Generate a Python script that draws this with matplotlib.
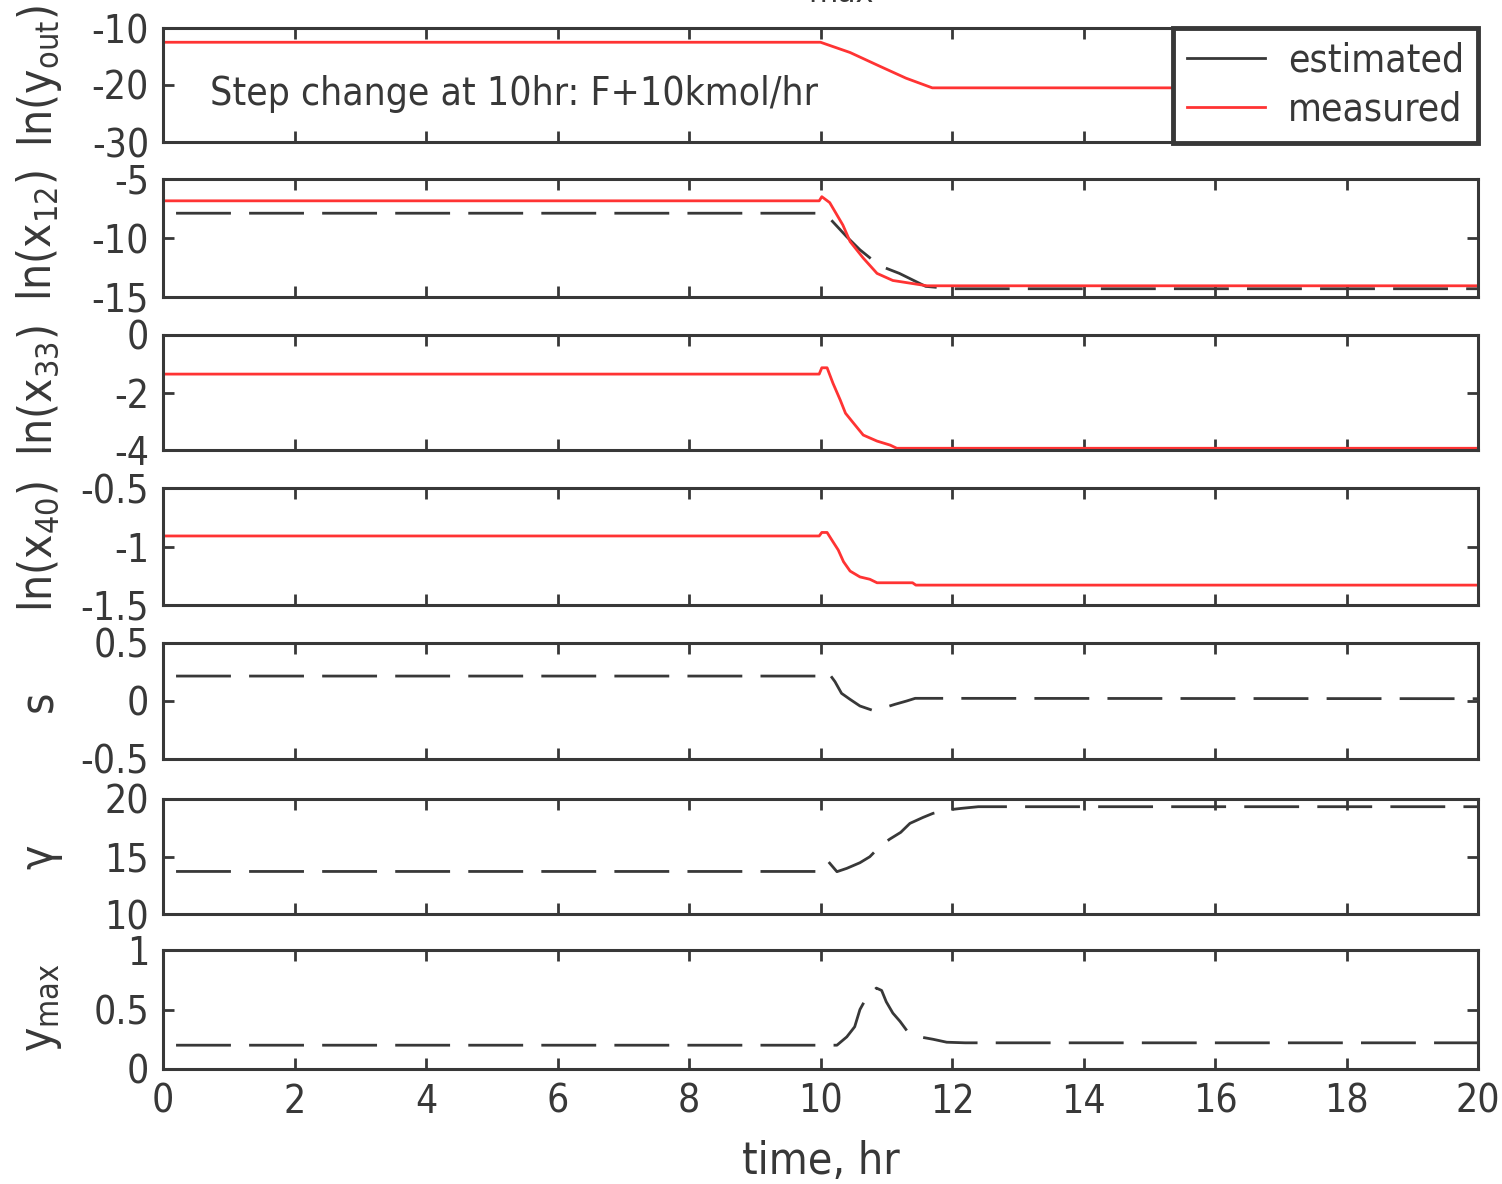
import matplotlib
matplotlib.use("Agg")
import matplotlib.pyplot as plt
from matplotlib.ticker import FormatStrFormatter

plt.rcParams['font.family'] = ['DejaVu Sans']
plt.rcParams['font.stretch'] = 'condensed'
plt.rcParams['mathtext.fontset'] = 'custom'
plt.rcParams['mathtext.rm'] = 'DejaVu Sans:stretch=condensed'
plt.rcParams['mathtext.default'] = 'rm'
plt.rcParams['axes.unicode_minus'] = False
plt.rcParams['lines.scale_dashes'] = False

DARK = '#383838'
RED = '#ff3333'

# ---- data ----
t_yout = [0, 10.0, 10.45, 10.9, 11.3, 11.7, 20]
yout_meas = [-12.5, -12.5, -14.3, -16.7, -18.8, -20.5, -20.5]

t_x12_meas = [0, 9.98, 10.02, 10.14, 10.34, 10.45, 10.65, 10.86, 11.1, 11.62, 20]
x12_meas = [-6.85, -6.85, -6.5, -7.0, -8.9, -10.3, -11.7, -13.0, -13.6, -14.05, -14.05]
t_x12_est = [0, 10.0, 10.15, 10.4, 10.6, 10.9, 11.2, 11.6, 12.0, 20]
x12_est = [-7.9, -7.9, -8.4, -9.9, -11.0, -12.35, -13.0, -14.1, -14.3, -14.3]

t_x33_meas = [0, 9.98, 10.02, 10.1, 10.19, 10.3, 10.38, 10.5, 10.65, 10.86, 11.06, 11.16, 20]
x33_meas = [-1.36, -1.36, -1.14, -1.14, -1.68, -2.26, -2.72, -3.06, -3.48, -3.69, -3.83, -3.94, -3.94]

t_x40_meas = [0, 9.98, 10.02, 10.1, 10.19, 10.27, 10.35, 10.45, 10.6, 10.75, 10.86, 11.4, 11.45, 20]
x40_meas = [-0.91, -0.91, -0.88, -0.88, -0.96, -1.03, -1.13, -1.21, -1.26, -1.28, -1.31, -1.31, -1.33, -1.33]

t_s = [0, 10.0, 10.12, 10.22, 10.32, 10.45, 10.6, 10.78, 10.9, 11.13, 11.31, 11.44, 20]
s_est = [0.215, 0.215, 0.244, 0.167, 0.066, 0.014, -0.043, -0.078, -0.07, -0.029, 0.0, 0.023, 0.02]

t_gam = [0, 10.0, 10.12, 10.25, 10.4, 10.6, 10.75, 10.89, 11.05, 11.22, 11.36, 11.56, 11.71, 11.92, 12.15, 12.4, 20]
gam_est = [13.7, 13.7, 14.55, 13.68, 13.97, 14.46, 14.98, 15.8, 16.5, 17.1, 17.88, 18.4, 18.75, 19.04, 19.19, 19.33, 19.33]

t_ymax = [0, 10.0, 10.25, 10.4, 10.52, 10.6, 10.71, 10.85, 10.93, 11.0, 11.1, 11.21, 11.33, 11.51, 11.71, 11.92, 12.2, 20]
ymax_est = [0.2, 0.2, 0.2, 0.27, 0.355, 0.5, 0.61, 0.68, 0.66, 0.565, 0.47, 0.4, 0.31, 0.27, 0.25, 0.225, 0.22, 0.22]

ylabels = [r'ln(y$_{out}$)', r'ln(x$_{12}$)', r'ln(x$_{33}$)', r'ln(x$_{40}$)', 's', 'γ', r'y$_{max}$']
ylims = [(-30, -10), (-15, -5), (-4, 0), (-1.5, -0.5), (-0.5, 0.5), (10, 20), (0, 1)]
yticks = [[-30, -20, -10], [-15, -10, -5], [-4, -2, 0], [-1.5, -1, -0.5],
          [-0.5, 0, 0.5], [10, 15, 20], [0, 0.5, 1]]
xticks = list(range(0, 21, 2))

# ---- layout (pixel rows of each panel) ----
W, H = 1502, 1184
rows = [(28, 142), (179, 297), (335, 450), (488, 605), (643, 759), (799, 914), (950, 1069)]
left, right = 163, 1478
label_y = [0.58, 0.52, 0.52, 0.5, 0.5, 0.5, 0.52]

fig = plt.figure(figsize=(W / 100, H / 100), dpi=100)
dash_offset = (43.2, (39.5, 13.1))

axes = []
for i, (top, bot) in enumerate(rows):
    ax = fig.add_axes([left / W, 1 - bot / H, (right - left) / W, (bot - top) / H])
    ax.set_xlim(0, 20)
    ax.set_ylim(*ylims[i])
    ax.set_xticks(xticks)
    ax.set_yticks(yticks[i])
    ax.yaxis.set_major_formatter(FormatStrFormatter('%g'))
    ax.tick_params(direction='in', length=8, width=2, top=True, right=True,
                   labelsize=28, colors=DARK, pad=10)
    if i < len(rows) - 1:
        ax.tick_params(labelbottom=False)
    for sp in ax.spines.values():
        sp.set_linewidth(2.2)
        sp.set_color(DARK)
    ax.set_ylabel(ylabels[i], fontsize=33, color=DARK, va='baseline')
    ax.yaxis.set_label_coords((52 - left) / (right - left), label_y[i])
    axes.append(ax)

a1, a2, a3, a4, a5, a6, a7 = axes

a1.plot(t_yout, yout_meas, color=RED, lw=2)
a1.text(0.71, -21.6, 'Step change at 10hr: F+10kmol/hr', fontsize=28, color=DARK, va='center')
h_est, = a1.plot([], [], color=DARK, lw=2, label='estimated')
h_meas, = a1.plot([], [], color=RED, lw=2, label='measured')
leg = a1.legend(handles=[h_est, h_meas], loc='upper right', bbox_to_anchor=(1, 1),
                borderaxespad=0, fancybox=False, fontsize=28, handlelength=2.0,
                handletextpad=0.6, borderpad=0.36, labelspacing=0.27, framealpha=1)
leg.get_frame().set_edgecolor(DARK)
leg.get_frame().set_linewidth(3.5)
for txt in leg.get_texts():
    txt.set_color(DARK)

a2.plot(t_x12_est, x12_est, color=DARK, lw=2, linestyle=dash_offset)
a2.plot(t_x12_meas, x12_meas, color=RED, lw=2)

a3.plot(t_x33_meas, x33_meas, color=RED, lw=2)
a4.plot(t_x40_meas, x40_meas, color=RED, lw=2)

a5.plot(t_s, s_est, color=DARK, lw=2, linestyle=dash_offset)
a6.plot(t_gam, gam_est, color=DARK, lw=2, linestyle=dash_offset)
a7.plot(t_ymax, ymax_est, color=DARK, lw=2, linestyle=dash_offset)

a7.set_xlabel('time, hr', fontsize=32, color=DARK, labelpad=14)

# clipped title remnant at the top edge
fig.text(841 / W, 1 - 9 / H, 'max', fontsize=24, color=DARK, ha='center', va='bottom')

fig.savefig('out.png', dpi=100)
